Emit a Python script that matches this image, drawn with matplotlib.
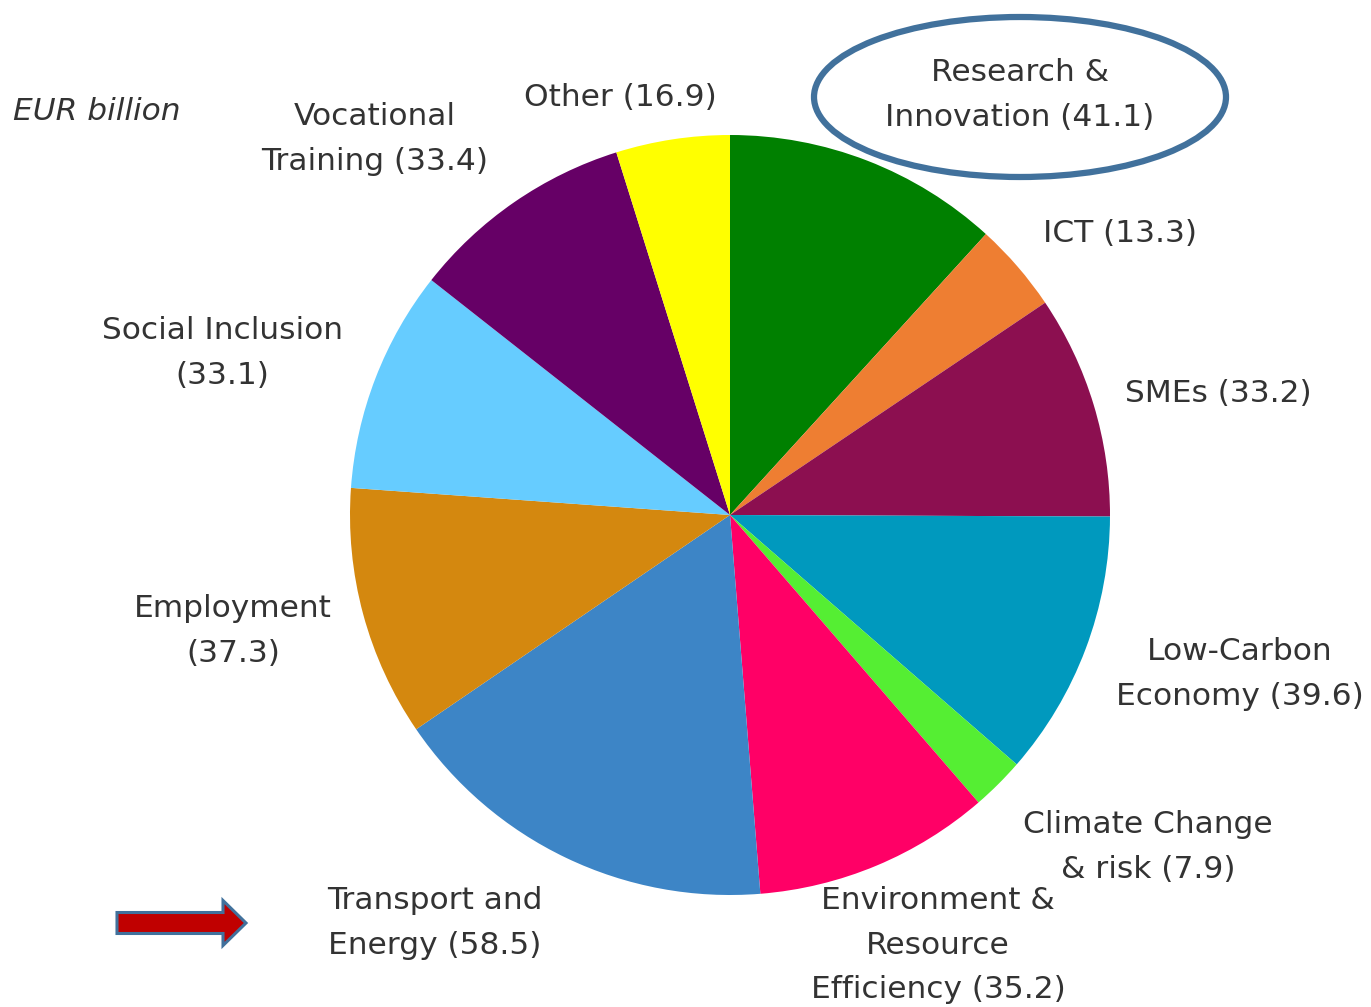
import matplotlib.pyplot as plt
import matplotlib.patches as mpatches

# EUR billion, clockwise from 12 o'clock
categories = ["Research &\nInnovation", "ICT", "SMEs", "Low-Carbon\nEconomy",
              "Climate Change\n& risk", "Environment &\nResource\nEfficiency",
              "Transport and\nEnergy", "Employment", "Social Inclusion",
              "Vocational\nTraining", "Other"]
values = [41.1, 13.3, 33.2, 39.6, 7.9, 35.2, 58.5, 37.3, 33.1, 33.4, 16.9]
colors = ["#008000", "#EE7E32", "#8C0F50", "#0099BE", "#55EE33", "#FF0066",
          "#3D85C6", "#D4880F", "#66CCFF", "#660066", "#FFFF00"]

W, H = 1371, 1007
fig = plt.figure(figsize=(W / 100, H / 100), dpi=100)
ax = fig.add_axes([0, 0, 1, 1])
ax.set_xlim(0, W)
ax.set_ylim(0, H)
ax.set_aspect('equal')
ax.axis('off')

def Y(py):
    return H - py

ax.pie(values, colors=colors, startangle=90, counterclock=False,
       center=(730, Y(515)), radius=380, frame=False,
       wedgeprops=dict(linewidth=0))
ax.set_xlim(0, W)
ax.set_ylim(0, H)

txt = dict(fontsize=22.5, color='#333333', ha='center', va='center', linespacing=1.68)

# label positions in pixel coords (x, y of text centre)
label_pos = [(1020, 95), (1120, 233), (1218, 393), (1240, 674), (1148, 847),
             (938, 945), (435, 923), (233, 631), (222, 353), (375, 139), (620, 97)]
for name, v, (px, py) in zip(categories, values, label_pos):
    if name == "Social Inclusion" or name == "Employment":
        s = f"{name}\n({v})"
    else:
        s = f"{name} ({v})"
    ax.text(px, Y(py), s, **txt)

ax.text(13, Y(112), "EUR billion", fontsize=22.5, color='#333333', style='italic',
        ha='left', va='center')

# highlight ring around Research & Innovation
ax.add_patch(mpatches.Ellipse((1020, Y(97)), 412, 160, fill=False,
                              edgecolor='#41719C', linewidth=4.5))

# red arrow pointing at Transport and Energy
ax.add_patch(mpatches.FancyArrow(117, Y(923), 106, 0, width=21, head_width=45,
                                 head_length=23, length_includes_head=False,
                                 facecolor='#C00000', edgecolor='#41719C', linewidth=2.2))

fig.savefig("out.png", dpi=100)
